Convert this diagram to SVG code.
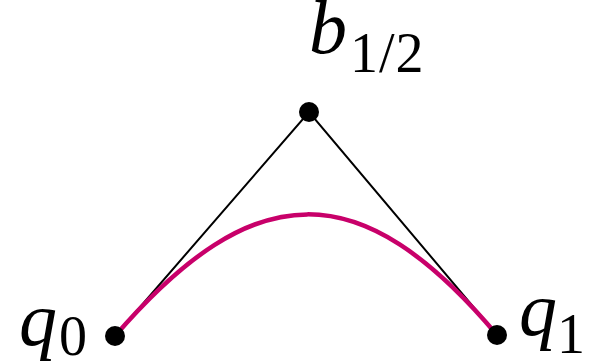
<svg xmlns="http://www.w3.org/2000/svg" width="594" height="363" viewBox="0 0 594 363">
<style>
.lbl{font-family:"Liberation Serif","Times New Roman",serif;font-size:76px;font-style:italic;fill:#000}
.sub{font-family:"Liberation Serif","Times New Roman",serif;font-size:56px;font-style:normal;fill:#000}
.pt{fill:#000}
.poly{fill:none;stroke:#000;stroke-width:2}
.curve{fill:none;stroke:#c8006a;stroke-width:4.5}
</style>
<rect width="594" height="363" fill="#fff"/>
<g id="connectors">
<polyline class="poly" points="115,336 309,112 497,335"/>
<path class="curve" d="M115,336 C255,174 361,174 497,335"/>
</g>
<g id="q0"><circle class="pt" cx="115" cy="336" r="10"/><text x="19" y="345" class="lbl">q<tspan class="sub" dx="2" dy="10">0</tspan></text></g>
<g id="b12"><circle class="pt" cx="309" cy="112" r="10"/><text x="309" y="53" class="lbl">b<tspan class="sub" dx="3" dy="19" letter-spacing="1">1/2</tspan></text></g>
<g id="q1"><circle class="pt" cx="497" cy="335" r="10"/><text x="519" y="335" class="lbl">q<tspan class="sub" dy="18">1</tspan></text></g>
</svg>
